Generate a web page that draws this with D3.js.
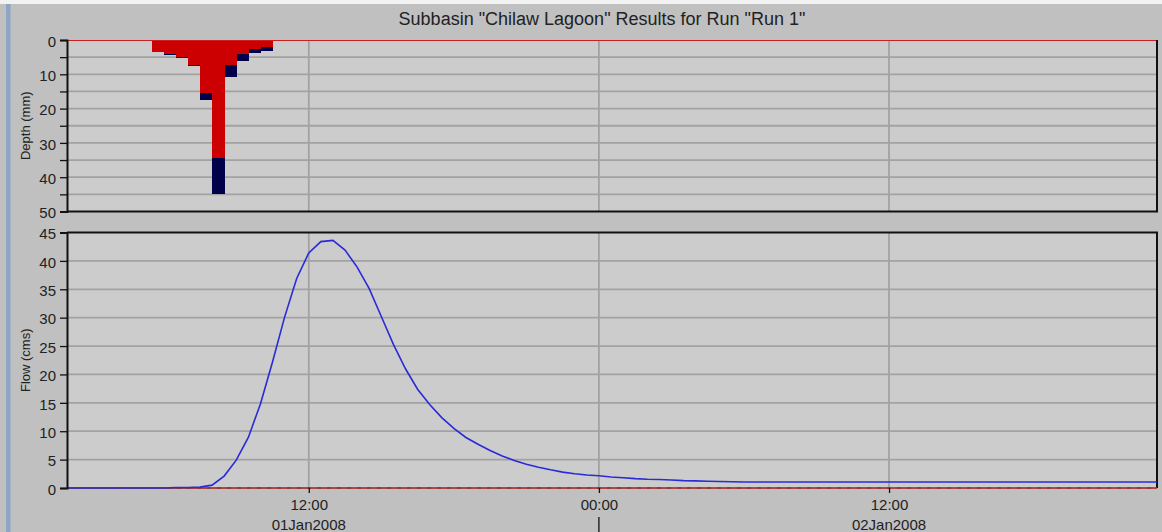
<!DOCTYPE html>
<html>
<head>
<meta charset="utf-8">
<script src="https://cdn.jsdelivr.net/npm/d3@7"></script>
<style>
  body { margin: 0; background: #c0c0c0; }
  text { font-family: "Liberation Sans", Arial, sans-serif; fill: #222; }
</style>
</head>
<body>
<div id="chart"></div>
<script>
// ---- data ----
var chartTitle = 'Subbasin "Chilaw Lagoon" Results for Run "Run 1"';

// precipitation, 30 min blocks starting 01Jan2008 05:30
var precipStart = Date.UTC(2008, 0, 1, 5, 30);
var precipExcess = [3.4, 4.2, 4.9, 7.2, 15.4, 34.5, 7.2, 4.1, 2.6, 1.9];
var precipLoss   = [0.0, 0.1, 0.25, 0.4, 2.1, 10.5, 3.5, 2.0, 1.2, 1.3];

// outflow, 30 min steps starting 01Jan2008 02:00
var flowStart = Date.UTC(2008, 0, 1, 2, 0);
var flowValues = [
  0, 0, 0, 0, 0, 0, 0, 0, 0,
  0.1, 0.1, 0.15, 0.5, 2.1, 4.9, 8.9, 14.8, 22.2, 30.1, 36.9, 41.4,
  43.4, 43.6, 41.9, 38.9, 35.1, 30.2, 25.3, 21.0, 17.4, 14.7, 12.4, 10.5,
  8.9, 7.7, 6.6, 5.65, 4.85, 4.2, 3.65, 3.2, 2.8, 2.5, 2.3,
  2.15, 1.95, 1.8, 1.65, 1.55, 1.5, 1.4, 1.3, 1.25, 1.2, 1.15, 1.1,
  1.05, 1.05, 1.05, 1.05, 1.05, 1.05, 1.05, 1.05, 1.05, 1.05, 1.05, 1.05,
  1.05, 1.05, 1.05, 1.05, 1.05, 1.05, 1.05, 1.05, 1.05, 1.05, 1.05, 1.05,
  1.05, 1.05, 1.05, 1.05, 1.05, 1.05, 1.05, 1.05, 1.05, 1.05, 1.05, 1.05
];

var depthTicks = [0, 5, 10, 15, 20, 25, 30, 35, 40, 45, 50];
var flowTicks = [0, 5, 10, 15, 20, 25, 30, 35, 40, 45];
var timeTicks = [Date.UTC(2008, 0, 1, 12), Date.UTC(2008, 0, 2, 0), Date.UTC(2008, 0, 2, 12)];
var dayLabels = [
  {t: Date.UTC(2008, 0, 1, 12), label: "01Jan2008"},
  {t: Date.UTC(2008, 0, 2, 12), label: "02Jan2008"}
];

var HALF_HOUR = 30 * 60 * 1000;

// ---- layout ----
var W = 1162, H = 532;
var left = 67, right = 1157;
var top1 = 40, bot1 = 211.5;
var top2 = 232.5, bot2 = 488;

var svg = d3.select("#chart").append("svg")
    .attr("width", W)
    .attr("height", H);

svg.append("rect").attr("width", W).attr("height", H).attr("fill", "#c0c0c0");
svg.append("rect").attr("width", W).attr("height", 4).attr("fill", "#f2f2f2");
svg.append("rect").attr("x", 6).attr("y", 4).attr("width", 4.5).attr("height", H).attr("fill", "#8ea5c3");

svg.append("text")
    .attr("x", 602)
    .attr("y", 24.5)
    .attr("text-anchor", "middle")
    .style("font-size", "18px")
    .text(chartTitle);

// scales
var x = d3.scaleUtc()
    .domain([Date.UTC(2008, 0, 1, 2, 0), Date.UTC(2008, 0, 2, 23, 5)])
    .range([left, right]);
var yDepth = d3.scaleLinear().domain([0, 50]).range([top1, bot1]);
var yFlow = d3.scaleLinear().domain([0, 45]).range([bot2, top2]);

// plot backgrounds
svg.append("rect").attr("x", left).attr("y", top1).attr("width", right - left).attr("height", bot1 - top1).attr("fill", "#cccccc");
svg.append("rect").attr("x", left).attr("y", top2).attr("width", right - left).attr("height", bot2 - top2).attr("fill", "#cccccc");

var defs = svg.append("defs");
defs.append("clipPath").attr("id", "clipFlow")
    .append("rect").attr("x", left).attr("y", top2).attr("width", right - left).attr("height", bot2 - top2 + 2);

// gridlines
var grid = svg.append("g").attr("stroke", "#a2a2a2").attr("stroke-width", 1.8);
grid.selectAll(".hd").data(depthTicks.filter(function(d){ return d > 0 && d < 50; }))
    .enter().append("line")
    .attr("x1", left).attr("x2", right)
    .attr("y1", function(d){ return yDepth(d); })
    .attr("y2", function(d){ return yDepth(d); });
grid.selectAll(".hf").data(flowTicks.filter(function(d){ return d > 0 && d < 45; }))
    .enter().append("line")
    .attr("x1", left).attr("x2", right)
    .attr("y1", function(d){ return yFlow(d); })
    .attr("y2", function(d){ return yFlow(d); });
timeTicks.forEach(function(t){
    grid.append("line").attr("x1", x(t)).attr("x2", x(t)).attr("y1", top1).attr("y2", bot1);
    grid.append("line").attr("x1", x(t)).attr("x2", x(t)).attr("y1", top2).attr("y2", bot2);
});

// precipitation bars (excess red from 0, loss navy below)
var precip = precipExcess.map(function(e, i){
    return {t0: precipStart + i * HALF_HOUR, t1: precipStart + (i + 1) * HALF_HOUR, excess: e, loss: precipLoss[i]};
});
svg.append("g").attr("shape-rendering", "crispEdges")
    .selectAll("rect").data(precip).enter().append("rect")
    .attr("x", function(d){ return x(d.t0); })
    .attr("width", function(d){ return x(d.t1) - x(d.t0) + 0.5; })
    .attr("y", function(d){ return yDepth(d.excess); })
    .attr("height", function(d){ return yDepth(d.excess + d.loss) - yDepth(d.excess); })
    .attr("fill", "#00004a");
svg.append("g").attr("shape-rendering", "crispEdges")
    .selectAll("rect").data(precip).enter().append("rect")
    .attr("x", function(d){ return x(d.t0); })
    .attr("width", function(d){ return x(d.t1) - x(d.t0) + 0.5; })
    .attr("y", yDepth(0))
    .attr("height", function(d){ return yDepth(d.excess) - yDepth(0); })
    .attr("fill", "#cc0000");

// frames
svg.append("line").attr("x1", left).attr("x2", right).attr("y1", top1 + 0.5).attr("y2", top1 + 0.5)
    .attr("stroke", "#cc2020").attr("stroke-width", 1.2);
var frame = svg.append("g").attr("stroke", "#111").attr("stroke-width", 2).attr("fill", "none");
frame.append("path").attr("d", "M" + right + "," + top1 + "V" + bot1 + "H" + left);
frame.append("path").attr("d", "M" + left + "," + top2 + "H" + right + "V" + bot2);

// zero line of flow panel
svg.append("line").attr("x1", left).attr("x2", right).attr("y1", bot2).attr("y2", bot2)
    .attr("stroke", "#b01818").attr("stroke-width", 1.5);

// flow line
var flow = flowValues.map(function(v, i){ return {t: flowStart + i * HALF_HOUR, v: v}; });
var line = d3.line()
    .x(function(d){ return x(d.t); })
    .y(function(d){ return yFlow(d.v); });
svg.append("path")
    .datum(flow)
    .attr("clip-path", "url(#clipFlow)")
    .attr("fill", "none")
    .attr("stroke", "#2a2ad8")
    .attr("stroke-width", 1.6)
    .attr("d", line);

svg.append("line").attr("x1", left).attr("x2", right).attr("y1", bot2).attr("y2", bot2)
    .attr("stroke", "#444").attr("stroke-width", 1.2).attr("stroke-dasharray", "4,6");

// axes
var depthAxis = d3.axisLeft(yDepth)
    .tickValues(depthTicks)
    .tickSize(7)
    .tickPadding(4)
    .tickFormat(function(d){ return d % 10 === 0 ? d : ""; });
var gd = svg.append("g").attr("transform", "translate(" + left + ",0)").call(depthAxis);

var flowAxis = d3.axisLeft(yFlow)
    .tickValues(flowTicks)
    .tickSize(7)
    .tickPadding(4);
var gf = svg.append("g").attr("transform", "translate(" + left + ",0)").call(flowAxis);

[gd, gf].forEach(function(g){
    g.select(".domain").attr("stroke", "#111").attr("stroke-width", 2);
    g.selectAll(".tick line").attr("stroke", "#111").attr("stroke-width", 1.3);
    g.selectAll(".tick text")
        .style("font-size", "15px")
        .attr("fill", "#222")
        .attr("dy", "0.42em");
});

var timeAxis = d3.axisBottom(x)
    .tickValues(timeTicks)
    .tickSize(5)
    .tickPadding(8)
    .tickFormat(d3.utcFormat("%H:%M"));
var gt = svg.append("g").attr("transform", "translate(0," + bot2 + ")").call(timeAxis);
gt.select(".domain").remove();
gt.selectAll(".tick line").attr("stroke", "#111").attr("stroke-width", 1.3);
gt.selectAll(".tick text").style("font-size", "15px").attr("fill", "#222").attr("dy", "0.62em");

svg.selectAll(".daylabel").data(dayLabels).enter().append("text")
    .attr("x", function(d){ return x(d.t); })
    .attr("y", 530)
    .attr("text-anchor", "middle")
    .style("font-size", "15px")
    .text(function(d){ return d.label; });

// day separator under midnight
svg.append("line")
    .attr("x1", x(timeTicks[1])).attr("x2", x(timeTicks[1]))
    .attr("y1", 517).attr("y2", H)
    .attr("stroke", "#111").attr("stroke-width", 1.3);

// axis titles
svg.append("text")
    .attr("transform", "translate(30," + ((top1 + bot1) / 2) + ") rotate(-90)")
    .attr("text-anchor", "middle")
    .style("font-size", "13px")
    .text("Depth (mm)");
svg.append("text")
    .attr("transform", "translate(30," + ((top2 + bot2) / 2) + ") rotate(-90)")
    .attr("text-anchor", "middle")
    .style("font-size", "13px")
    .text("Flow (cms)");
</script>
</body>
</html>
